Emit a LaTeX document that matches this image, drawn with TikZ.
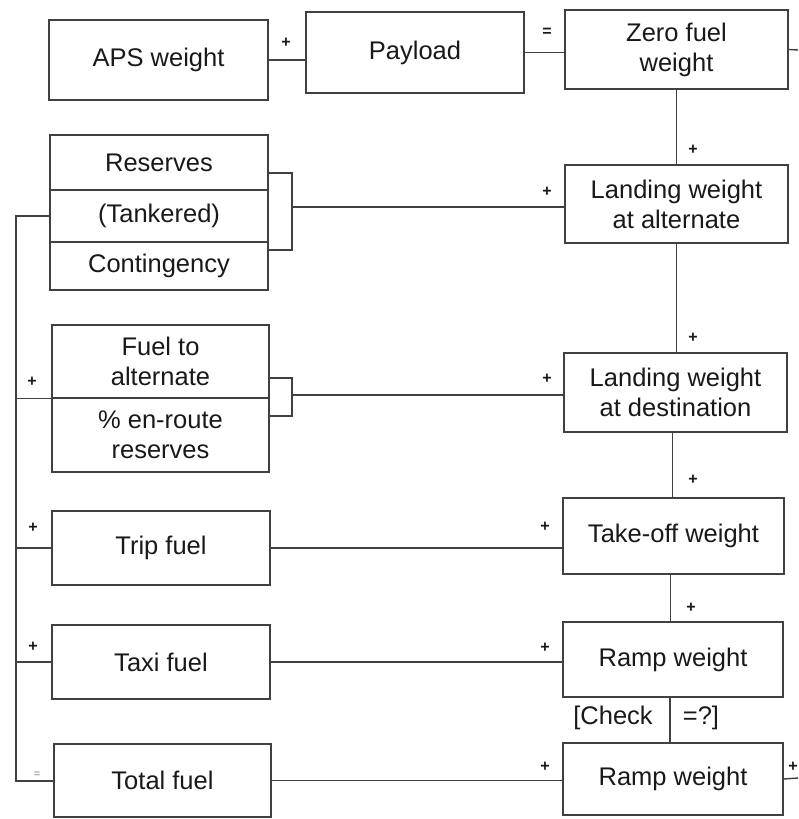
\documentclass[tikz,border=0pt]{standalone}
\usepackage{fontspec}
\setmainfont{Liberation Sans}
\begin{document}
\begin{tikzpicture}[x=1pt,y=-1pt,
  line width=1.4pt, draw=black!75,
  box/.style={draw=black!75, rectangle, inner sep=0pt, align=center, text=black!90,
    font=\fontsize{25.5}{30}\selectfont},
  sign/.style={inner sep=0pt, text=black!90, font=\fontsize{16}{16}\selectfont\bfseries},
  lbl/.style={inner sep=0pt, text=black!90, font=\fontsize{25.5}{28}\selectfont}]
\useasboundingbox (0,0) rectangle (798,819);
% boxes
\node[box, minimum width=219, minimum height=80] (aps) at (158.5,60) {APS weight};
\node[box, minimum width=218, minimum height=81] (pay) at (415,52.5) {Payload};
\node[box, minimum width=223, minimum height=79] (zfw) at (676.5,49.5) {Zero fuel\\weight};
\node[box, minimum width=218, minimum height=55] (res) at (159,162.5) {Reserves};
\node[box, minimum width=218, minimum height=52] (tank) at (159,216) {(Tankered)};
\node[box, minimum width=218, minimum height=48] (cont) at (159,266) {Contingency};
\node[box, minimum width=223, minimum height=78] (lwa) at (676.5,204) {Landing weight\\at alternate};
\node[box, minimum width=217, minimum height=73] (fta) at (160.5,361.5) {Fuel to\\alternate};
\node[box, minimum width=217, minimum height=74] (enr) at (160.5,435) {\% en-route\\reserves};
\node[box, minimum width=223, minimum height=79] (lwd) at (675.5,392.5) {Landing weight\\at destination};
\node[box, minimum width=218, minimum height=74] (trip) at (161,548) {Trip fuel};
\node[box, minimum width=221, minimum height=76] (tow) at (673.5,536) {Take-off weight};
\node[box, minimum width=218, minimum height=74] (taxi) at (161,662) {Taxi fuel};
\node[box, minimum width=220, minimum height=75] (ramp1) at (673,659.5) {Ramp weight};
\node[box, minimum width=217, minimum height=73] (total) at (162.5,780.5) {Total fuel};
\node[box, minimum width=220, minimum height=72] (ramp2) at (673,779) {Ramp weight};
% coordinates
\coordinate (zfwout) at (798,50);
\coordinate (r2out) at (798,778);
\coordinate (brAt) at (292,173);
\coordinate (brAb) at (292,250);
\coordinate (brAm) at (292,207);
\coordinate (brBt) at (292,378);
\coordinate (brBb) at (292,416);
\coordinate (brBm) at (292,395);
\coordinate (busT) at (16,216);
\coordinate (busB) at (16,781);
% top row
\draw (aps.east) -- (aps.east -| pay.west);
\draw (pay.east) -- (pay.east -| zfw.west);
\draw (zfw.east) -- (zfwout);
% vertical chain
\draw (zfw.south) -- (zfw.south |- lwa.north);
\draw (lwa.south) -- (lwa.south |- lwd.north);
\draw ([xshift=-3pt]lwd.south) -- ([xshift=-3pt]lwd.south |- tow.north);
\draw ([xshift=-3pt]tow.south) -- ([xshift=-3pt]tow.south |- ramp1.north);
\draw ([xshift=-3pt]ramp1.south) -- ([xshift=-3pt]ramp1.south |- ramp2.north);
% brackets
\draw (brAt -| res.east) -- (brAt) -- (brAb) -- (brAb -| cont.east);
\draw (brAm) -- (brAm -| lwa.west);
\draw (brBt -| fta.east) -- (brBt) -- (brBb) -- (brBb -| enr.east);
\draw (brBm) -- (brBm -| lwd.west);
% left bus
\draw (tank.west) -- (busT) -- (busB) -- (busB -| total.west);
\draw (busT |- fta.south) -- (fta.south west);
\draw (busT |- trip.west) -- (trip.west);
\draw (busT |- taxi.west) -- (taxi.west);
% fuel to weights
\draw (trip.east) -- (trip.east -| tow.west);
\draw (taxi.east) -- (taxi.east -| ramp1.west);
\draw (total.east) -- (total.east -| ramp2.west);
\draw (ramp2.east) -- (r2out);
% signs
\node[sign] (s1) at (286,43) {+};
\node[sign] (s2) at (547,32) {=};
\node[sign] (s3) at (693,150) {+};
\node[sign] (s4) at (547,192) {+};
\node[sign] (s5) at (693,338) {+};
\node[sign] (s6) at (547,379) {+};
\node[sign] (s7) at (32,382) {+};
\node[sign] (s8) at (693,480) {+};
\node[sign] (s9) at (545,527) {+};
\node[sign] (s10) at (33,528) {+};
\node[sign] (s11) at (691,608) {+};
\node[sign] (s12) at (545,648) {+};
\node[sign] (s13) at (33,647) {+};
\node[sign, font=\fontsize{11}{11}\selectfont, text=black!50] (s14) at (37,775) {=};
\node[sign] (s15) at (545,767) {+};
\node[sign] (s16) at (793,767) {+};
\node[lbl] (chk1) at (613,718) {[Check};
\node[lbl] (chk2) at (701,718) {=?]};
\end{tikzpicture}
\end{document}
